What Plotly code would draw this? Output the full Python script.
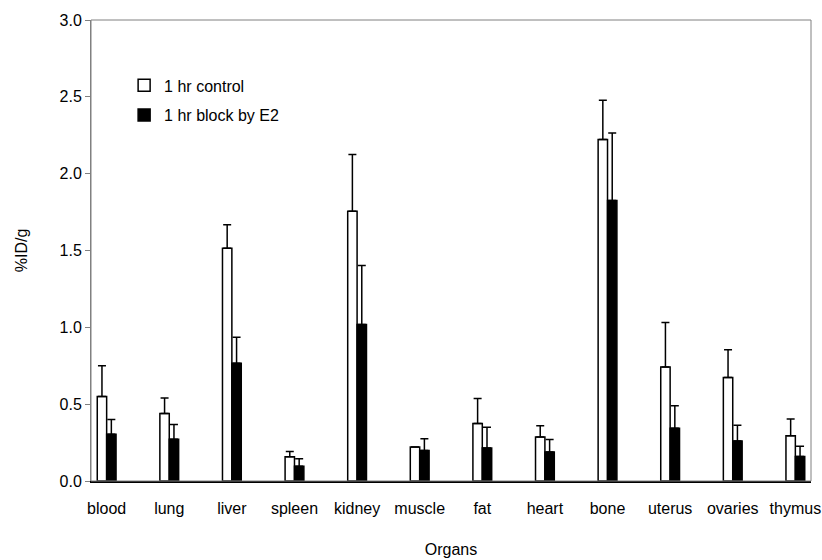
import plotly.graph_objects as go

organs = ["blood", "lung", "liver", "spleen", "kidney", "muscle", "fat", "heart",
          "bone", "uterus", "ovaries", "thymus"]
control = [0.55, 0.44, 1.515, 0.157, 1.755, 0.222, 0.374, 0.287, 2.222, 0.742, 0.674, 0.294]
control_err = [0.20, 0.10, 0.153, 0.035, 0.37, 0.0, 0.163, 0.073, 0.256, 0.29, 0.18, 0.11]
block = [0.305, 0.272, 0.766, 0.096, 1.018, 0.198, 0.215, 0.189, 1.826, 0.344, 0.261, 0.159]
block_err = [0.095, 0.095, 0.169, 0.049, 0.384, 0.077, 0.135, 0.081, 0.439, 0.145, 0.102, 0.067]

y_ticks = [0.0, 0.5, 1.0, 1.5, 2.0, 2.5, 3.0]
y_labels = ["0.0", "0.5", "1.0", "1.5", "2.0", "2.5", "3.0"]

FONT = "Liberation Sans, Arial, sans-serif"

fig = go.Figure()
fig.add_trace(go.Bar(
    name="1 hr control", x=organs, y=control, legendgroup="a",
    marker=dict(color="white", line=dict(color="black", width=1.5)),
    error_y=dict(type="data", symmetric=False, array=control_err,
                 arrayminus=[0] * len(organs), color="black", thickness=1.5, width=4),
))
fig.add_trace(go.Bar(
    name="1 hr block by E2", x=organs, y=block, legendgroup="b",
    marker=dict(color="black", line=dict(color="black", width=1.5)),
    error_y=dict(type="data", symmetric=False, array=block_err,
                 arrayminus=[0] * len(organs), color="black", thickness=1.5, width=4),
))

fig.update_layout(
    width=822, height=560,
    margin=dict(l=91, r=11, t=20, b=79),
    paper_bgcolor="white", plot_bgcolor="white",
    font=dict(family=FONT, size=16, color="black"),
    barmode="group", bargap=0.7, bargroupgap=0,
    showlegend=True,
    legend=dict(x=0.046, y=0.895, xanchor="left", yanchor="top",
                bgcolor="rgba(0,0,0,0)", traceorder="grouped", tracegroupgap=6,
                font=dict(size=16), itemwidth=30),
    shapes=[dict(type="rect", xref="paper", yref="paper", x0=0, y0=0, x1=1, y1=1,
                 line=dict(color="#808080", width=1), layer="above")],
)
fig.update_xaxes(
    range=[-0.25, 11.25], showline=True, linecolor="black", linewidth=1.5,
    ticks="", showgrid=False, ticklabelstandoff=12,
    title=dict(text="Organs", standoff=28, font=dict(size=16)),
    automargin=False,
)
fig.update_yaxes(
    range=[0, 3.0], tickvals=y_ticks, ticktext=y_labels,
    showline=True, linecolor="#808080", linewidth=1,
    ticks="outside", ticklen=5, tickcolor="#808080",
    showgrid=False, zeroline=False,
    title=dict(text="%ID/g", standoff=27, font=dict(size=16)),
    automargin=False,
)

fig.write_html("out.html", config={"displayModeBar": False},
               post_script="document.body.style.margin='0';")
